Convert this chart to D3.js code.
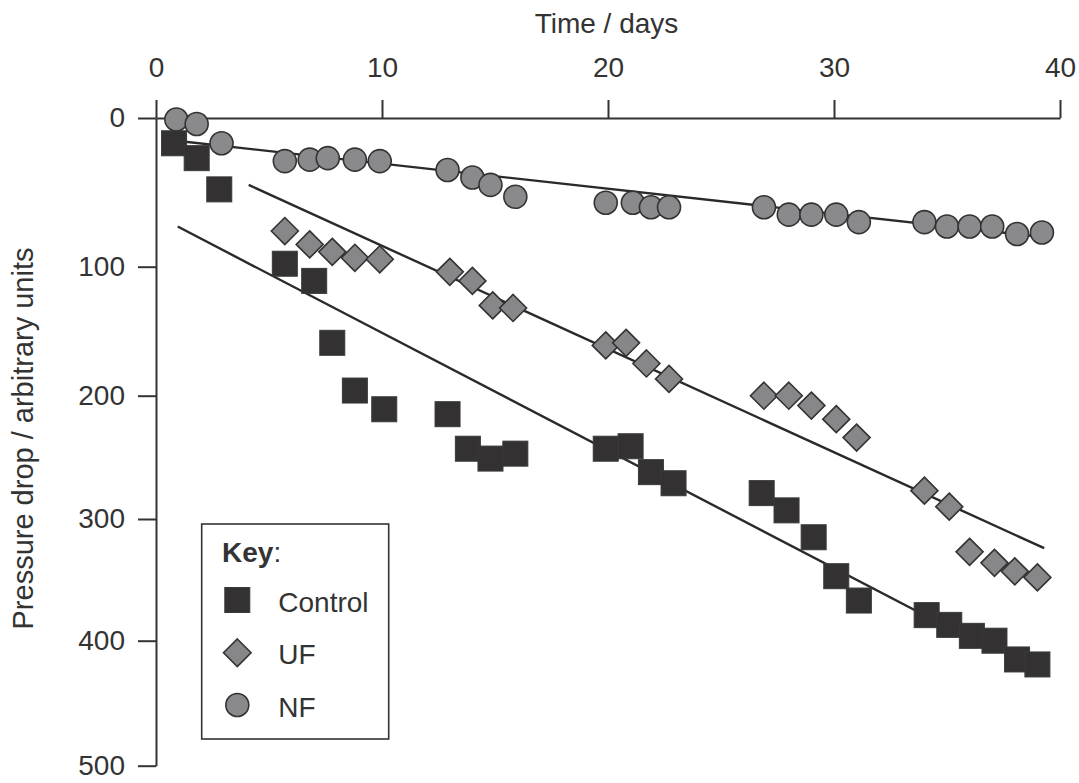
<!DOCTYPE html>
<html>
<head>
<meta charset="utf-8">
<script src="https://cdn.jsdelivr.net/npm/d3@7"></script>
<style>
  html, body { margin: 0; padding: 0; background: #ffffff; }
  svg { display: block; font-family: "Liberation Sans", Arial, Helvetica, sans-serif; }
</style>
</head>
<body>
<svg id="chart" width="1079" height="783"></svg>
<script>
// ---- data ----
const xTicks = [0, 10, 20, 30, 40];
const yTicks = [0, 100, 200, 300, 400, 500];
const xLabel = "Time / days";
const yLabel = "Pressure drop / arbitrary units";
const seriesNames = ["Control", "UF", "NF"];

const controlDays = [0.8, 1.8, 2.8, 5.7, 7.0, 7.8, 8.8, 10.1, 12.9, 13.8, 14.8, 15.9, 19.9, 21.0, 21.9, 22.9, 26.8, 27.9, 29.1, 30.1, 31.1, 34.1, 35.1, 36.1, 37.1, 38.1, 39.0];
const controlValues = [17, 27, 48, 98, 111, 159, 196, 211, 215, 243, 251, 247, 243, 241, 262, 271, 279, 293, 315, 347, 367, 379, 387, 396, 400, 415, 419];

const ufDays = [5.7, 6.8, 7.8, 8.8, 9.9, 13.0, 14.0, 14.9, 15.8, 19.9, 20.8, 21.7, 22.7, 26.9, 28.0, 29.0, 30.1, 31.0, 34.0, 35.1, 36.0, 37.1, 38.0, 39.0];
const ufValues = [76, 85, 90, 94, 95, 104, 111, 130, 132, 161, 159, 175, 187, 200, 200, 208, 219, 234, 277, 290, 327, 336, 343, 348];

const nfDays = [0.9, 1.8, 2.9, 5.7, 6.8, 7.6, 8.8, 9.9, 12.9, 14.0, 14.8, 15.9, 19.9, 21.1, 21.9, 22.7, 26.9, 28.0, 29.0, 30.1, 31.1, 34.0, 35.0, 36.0, 37.0, 38.1, 39.2];
const nfValues = [1, 4, 17, 29, 28, 27, 28, 29, 35, 40, 45, 53, 57, 57, 60, 60, 60, 65, 65, 65, 70, 70, 73, 73, 73, 78, 77];

// fitted trend lines: [day, value] end points
const controlFit = [[0.96, 73], [36.5, 403]];
const ufFit = [[4.1, 45], [39.3, 324]];
const nfFit = [[1.3, 16], [39.2, 80]];

// ---- drawing ----
const svg = d3.select("#chart");
const ink = "#333333";

const x = d3.scaleLinear().domain([0, 40]).range([156, 1060]);
// the printed axis is slightly non-uniform; follow its tick positions
const y = d3.scaleLinear().domain(yTicks).range([118, 266.7, 395.7, 519, 640.7, 765.7]);

// axes
const gx = svg.append("g").attr("transform", `translate(0,${y(0)})`)
  .call(d3.axisTop(x).tickValues(xTicks).tickSize(18).tickSizeOuter(0).tickPadding(23));
const gy = svg.append("g").attr("transform", `translate(${x(0)},0)`)
  .call(d3.axisLeft(y).tickValues(yTicks).tickSize(18).tickSizeOuter(0).tickPadding(13));
[gx, gy].forEach(g => {
  g.select(".domain").attr("stroke", ink).attr("stroke-width", 2);
  g.selectAll(".tick line").attr("stroke", ink).attr("stroke-width", 2);
  g.selectAll(".tick text").attr("fill", ink).style("font-size", "28px")
    .style("font-family", "'Liberation Sans', Arial, sans-serif");
});

// axis titles
svg.append("text").attr("x", 606.5).attr("y", 33).attr("text-anchor", "middle")
  .attr("fill", ink).style("font-size", "28px").text(xLabel);
svg.append("text").attr("transform", "translate(33,438.5) rotate(-90)")
  .attr("text-anchor", "middle").attr("fill", ink).style("font-size", "29px").text(yLabel);

// fit lines
const line = d3.line().x(d => x(d[0])).y(d => y(d[1]));
[controlFit, ufFit, nfFit].forEach(f => {
  svg.append("path").attr("d", line(f)).attr("fill", "none")
    .attr("stroke", "#2a2a2a").attr("stroke-width", 2.4);
});

const sq = 25;
const dm = 13.5;
const cr = 11.5;
function diamondPath(cx, cy, r) {
  return `M${cx},${cy - r}L${cx + r},${cy}L${cx},${cy + r}L${cx - r},${cy}Z`;
}

// NF circles
svg.append("g").selectAll("circle").data(d3.zip(nfDays, nfValues)).join("circle")
  .attr("cx", d => x(d[0])).attr("cy", d => y(d[1])).attr("r", cr)
  .attr("fill", "#8a8a8c").attr("stroke", ink).attr("stroke-width", 1.6);

// UF diamonds
svg.append("g").selectAll("path").data(d3.zip(ufDays, ufValues)).join("path")
  .attr("d", d => diamondPath(x(d[0]), y(d[1]), dm))
  .attr("fill", "#87878a").attr("stroke", ink).attr("stroke-width", 1.6)
  .attr("stroke-linejoin", "miter");

// Control squares
svg.append("g").selectAll("rect").data(d3.zip(controlDays, controlValues)).join("rect")
  .attr("x", d => x(d[0]) - sq / 2).attr("y", d => y(d[1]) - sq / 2)
  .attr("width", sq).attr("height", sq)
  .attr("fill", "#333132").attr("stroke", "#3a3a3a").attr("stroke-width", 1);

// legend
const lg = svg.append("g");
lg.append("rect").attr("x", 201.7).attr("y", 524).attr("width", 187).attr("height", 215)
  .attr("fill", "#ffffff").attr("stroke", ink).attr("stroke-width", 1.6);
const keyT = lg.append("text").attr("x", 222).attr("y", 562).attr("fill", ink).style("font-size", "28px");
keyT.append("tspan").style("font-weight", "bold").text("Key");
keyT.append("tspan").text(":");

const lx = 237.3;
const rows = [600, 652.8, 705];
lg.append("rect").attr("x", lx - sq / 2).attr("y", rows[0] - sq / 2).attr("width", sq).attr("height", sq)
  .attr("fill", "#333132").attr("stroke", "#3a3a3a").attr("stroke-width", 1);
lg.append("path").attr("d", diamondPath(lx, rows[1], 13.8))
  .attr("fill", "#87878a").attr("stroke", ink).attr("stroke-width", 1.6);
lg.append("circle").attr("cx", lx).attr("cy", rows[2]).attr("r", cr)
  .attr("fill", "#8a8a8c").attr("stroke", ink).attr("stroke-width", 1.6);
seriesNames.forEach((n, i) => {
  lg.append("text").attr("x", 278.3).attr("y", rows[i] + 11.5).attr("fill", ink)
    .style("font-size", "28px").text(n);
});
</script>
</body>
</html>
